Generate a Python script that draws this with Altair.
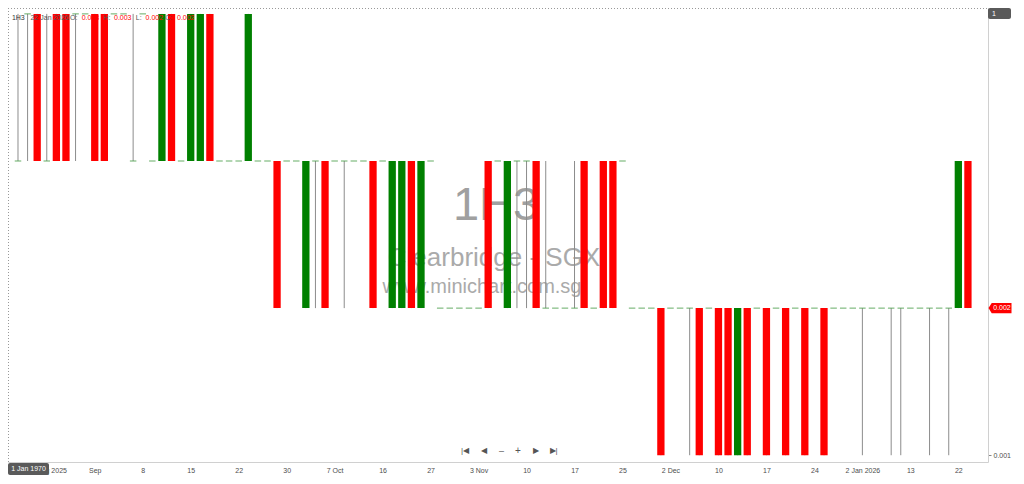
import altair as alt
import pandas as pd

# ---------------- data (bar index, OHLC) ----------------
bar_index = list(range(-8, 92))

open_price = [
    0.003, 0.004, 0.004, 0.003, 0.004, 0.004, 0.004, 0.004, 0.004, 0.004,
    0.004, 0.004, 0.003, 0.004, 0.003, 0.003, 0.004, 0.003, 0.003, 0.003,
    0.004, 0.003, 0.003, 0.003, 0.003, 0.003, 0.003, 0.003, 0.003, 0.003,
    0.002, 0.003, 0.003, 0.003, 0.003, 0.003, 0.003, 0.003, 0.003, 0.002,
    0.002, 0.003, 0.002, 0.003, 0.002, 0.002, 0.002, 0.002, 0.002, 0.003,
    0.003, 0.002, 0.003, 0.003, 0.003, 0.002, 0.002, 0.002, 0.002, 0.003,
    0.002, 0.003, 0.003, 0.003, 0.002, 0.002, 0.002, 0.002, 0.002, 0.002,
    0.002, 0.002, 0.002, 0.002, 0.002, 0.001, 0.002, 0.002, 0.002, 0.002,
    0.002, 0.002, 0.002, 0.002, 0.002, 0.002, 0.002, 0.002, 0.002, 0.002,
    0.002, 0.002, 0.002, 0.002, 0.002, 0.002, 0.002, 0.002, 0.002, 0.003,
]
high_price = [
    0.004, 0.004, 0.004, 0.004, 0.004, 0.004, 0.004, 0.004, 0.004, 0.004,
    0.004, 0.004, 0.004, 0.004, 0.003, 0.004, 0.004, 0.003, 0.004, 0.004,
    0.004, 0.003, 0.003, 0.003, 0.004, 0.003, 0.003, 0.003, 0.003, 0.003,
    0.003, 0.003, 0.003, 0.003, 0.003, 0.003, 0.003, 0.003, 0.003, 0.003,
    0.003, 0.003, 0.003, 0.003, 0.002, 0.002, 0.002, 0.002, 0.002, 0.003,
    0.003, 0.003, 0.003, 0.003, 0.003, 0.003, 0.002, 0.002, 0.003, 0.003,
    0.002, 0.003, 0.003, 0.003, 0.002, 0.002, 0.002, 0.002, 0.002, 0.002,
    0.002, 0.002, 0.002, 0.002, 0.002, 0.002, 0.002, 0.002, 0.002, 0.002,
    0.002, 0.002, 0.002, 0.002, 0.002, 0.002, 0.002, 0.002, 0.002, 0.002,
    0.002, 0.002, 0.002, 0.002, 0.002, 0.002, 0.002, 0.002, 0.003, 0.003,
]
low_price = [
    0.003, 0.003, 0.003, 0.003, 0.003, 0.003, 0.003, 0.004, 0.003, 0.003,
    0.004, 0.004, 0.003, 0.004, 0.003, 0.003, 0.003, 0.003, 0.003, 0.003,
    0.003, 0.003, 0.003, 0.003, 0.003, 0.003, 0.003, 0.002, 0.003, 0.003,
    0.002, 0.002, 0.002, 0.003, 0.002, 0.003, 0.003, 0.002, 0.003, 0.002,
    0.002, 0.002, 0.002, 0.003, 0.002, 0.002, 0.002, 0.002, 0.002, 0.002,
    0.003, 0.002, 0.002, 0.002, 0.002, 0.002, 0.002, 0.002, 0.002, 0.002,
    0.002, 0.002, 0.002, 0.003, 0.002, 0.002, 0.002, 0.001, 0.002, 0.002,
    0.001, 0.001, 0.002, 0.001, 0.001, 0.001, 0.001, 0.002, 0.001, 0.002,
    0.001, 0.002, 0.001, 0.002, 0.001, 0.002, 0.002, 0.002, 0.001, 0.002,
    0.002, 0.001, 0.001, 0.002, 0.002, 0.001, 0.002, 0.001, 0.002, 0.002,
]
close_price = [
    0.003, 0.004, 0.003, 0.003, 0.003, 0.003, 0.004, 0.004, 0.003, 0.003,
    0.004, 0.004, 0.003, 0.004, 0.003, 0.004, 0.003, 0.003, 0.004, 0.004,
    0.003, 0.003, 0.003, 0.003, 0.004, 0.003, 0.003, 0.002, 0.003, 0.003,
    0.003, 0.003, 0.002, 0.003, 0.003, 0.003, 0.003, 0.002, 0.003, 0.003,
    0.003, 0.002, 0.003, 0.003, 0.002, 0.002, 0.002, 0.002, 0.002, 0.002,
    0.003, 0.003, 0.003, 0.003, 0.002, 0.002, 0.002, 0.002, 0.002, 0.002,
    0.002, 0.002, 0.002, 0.003, 0.002, 0.002, 0.002, 0.001, 0.002, 0.002,
    0.002, 0.001, 0.002, 0.001, 0.001, 0.002, 0.001, 0.002, 0.001, 0.002,
    0.001, 0.002, 0.001, 0.002, 0.001, 0.002, 0.002, 0.002, 0.002, 0.002,
    0.002, 0.002, 0.002, 0.002, 0.002, 0.002, 0.002, 0.002, 0.003, 0.002,
]

tick_index = [-5, 0, 5, 10, 15, 20, 25, 30, 35, 40, 45, 50, 55, 60, 65, 70, 75, 80, 85, 90]
tick_labels = ["25 Aug 2025", "Sep", "8", "15", "22", "30", "7 Oct", "16", "27", "3 Nov",
               "10", "17", "25", "2 Dec", "10", "17", "24", "2 Jan 2026", "13", "22"]

df = pd.DataFrame({
    "n": bar_index,
    "open": open_price,
    "high": high_price,
    "low": low_price,
    "close": close_price,
})

# ---------------- layout ----------------
W, H = 980, 454
FONT = "Liberation Sans"
GREEN = "#008000"
RED = "#ff0000"

label_expr = (
    "[" + ",".join("'" + s + "'" for s in tick_labels) + "]"
    + "[indexof([" + ",".join(str(i) for i in tick_index) + "], datum.value)]"
)

xscale = alt.Scale(domain=[-8.52, 92.57], nice=False, zero=False)
yscale = alt.Scale(domain=[0.000954, 0.00404], nice=False, zero=False)

xaxis = alt.Axis(values=tick_index, labelExpr=label_expr, ticks=False, grid=False,
                 title=None, domainColor="#d0d0d0", labelColor="#4d4d4d",
                 labelFontSize=7, labelPadding=4, labelOverlap=False,
                 labelFlush=False, labelFont=FONT)
yaxis = alt.Axis(orient="right", values=[0.001], format=".3f", tickSize=3,
                 tickColor="#888888", labelColor="#4d4d4d", labelFontSize=7,
                 labelPadding=2, domainColor="#d0d0d0", grid=False, title=None,
                 labelFont=FONT)

base = alt.Chart(df).encode(x=alt.X("n:Q", scale=xscale, axis=xaxis))


def txt(s, x, y, size, color, align="left", baseline="middle", weight="normal"):
    return alt.Chart(pd.DataFrame({"a": [0]})).mark_text(
        text=s, align=align, baseline=baseline, fontSize=size, color=color,
        font=FONT, fontWeight=weight
    ).encode(x=alt.value(x), y=alt.value(y))


# watermark (behind)
wm = [
    txt("1H3", 488, 212, 47, "#a0a0a0", align="center", baseline="alphabetic"),
    txt("Clearbridge - SGX", 486, 258, 26, "#aaaaaa", align="center", baseline="alphabetic"),
    txt("www.minichart.com.sg", 474, 285, 20, "#aaaaaa", align="center", baseline="alphabetic"),
]

wicks = base.mark_rule(color="#8c8c8c", strokeWidth=1, clip=True).encode(
    y=alt.Y("low:Q", scale=yscale, axis=yaxis), y2="high:Q"
)

bodies = base.transform_filter("datum.open != datum.close").transform_calculate(
    dir="datum.close > datum.open ? 'up' : 'down'"
).mark_bar(size=7.3, clip=True).encode(
    y=alt.Y("open:Q", scale=yscale, axis=yaxis), y2="close:Q",
    color=alt.Color("dir:N", scale=alt.Scale(domain=["up", "down"], range=[GREEN, RED]), legend=None),
)

dojis = base.transform_filter("datum.open == datum.close").mark_tick(
    orient="horizontal", size=6.5, thickness=1, color="#4a9e4a", opacity=0.85, clip=True
).encode(y=alt.Y("close:Q", scale=yscale, axis=yaxis))

# last price tag on right
tag_path = "M -1 0 L -0.72 -0.44 L 1 -0.44 L 1 0.44 L -0.72 0.44 Z"
last = base.transform_filter(alt.datum.n == bar_index[-1])
tag = last.mark_point(shape=tag_path, size=529, filled=True, color=RED, opacity=1).encode(
    x=alt.value(992), y=alt.Y("close:Q", scale=yscale, axis=yaxis)
)
tag_text = last.mark_text(align="center", baseline="middle", fontSize=7, color="white", font=FONT).encode(
    x=alt.value(994), y=alt.Y("close:Q", scale=yscale, axis=yaxis),
    text=alt.Text("close:Q", format=".3f"),
)

one = alt.Chart(pd.DataFrame({"a": [0]}))
box_top = one.mark_rect(color="#5a5a5a", cornerRadius=2).encode(
    x=alt.value(980), x2=alt.value(1003), y=alt.value(0), y2=alt.value(11))
box_date = one.mark_rect(color="#5a5a5a", cornerRadius=2).encode(
    x=alt.value(0), x2=alt.value(41), y=alt.value(455), y2=alt.value(467))
top_dot = one.mark_rule(color="#999999", strokeDash=[1, 2], strokeWidth=1).encode(
    x=alt.value(0), x2=alt.value(W), y=alt.value(0.5))
left_dot = one.mark_rule(color="#999999", strokeDash=[1, 2], strokeWidth=1).encode(
    x=alt.value(0.5), y=alt.value(0), y2=alt.value(H))

header = [
    txt("1H3", 3.9, 10, 7, "#333333"),
    txt("22 Jan 2026", 22.6, 10, 7, "#555555"),
    txt("O:", 62, 10, 7, "#555555"),
    txt("0.003", 73.7, 10, 7, RED),
    txt("H:", 95.4, 10, 7, "#555555"),
    txt("0.003", 106, 10, 7, RED),
    txt("L:", 127.8, 10, 7, "#555555"),
    txt("0.002", 137.6, 10, 7, RED),
    txt("C:", 157.3, 10, 7, "#555555"),
    txt("0.002", 169, 10, 7, RED),
]

others = [
    txt("1", 984, 6, 7, "white"),
    txt("1 Jan 1970", 20.5, 461, 7, "white", align="center"),
]

nav = [
    txt("|◀", 457, 443, 8, "#555555", align="center"),
    txt("◀", 475.8, 443, 8, "#555555", align="center"),
    txt("–", 493.5, 443, 9, "#555555", align="center"),
    txt("+", 510, 443, 10, "#555555", align="center"),
    txt("▶", 528, 443, 8, "#555555", align="center"),
    txt("▶|", 545.6, 443, 8, "#555555", align="center"),
]

chart = alt.layer(
    *wm, wicks, bodies, dojis, *header, tag, tag_text, box_top, box_date,
    top_dot, left_dot, *others, *nav
).properties(
    width=W, height=H,
    autosize=alt.AutoSizeParams(type="none"),
    padding={"left": 0, "top": 0, "right": 28, "bottom": 14},
    background="white",
).configure_view(stroke=None)

chart.save("out.html", embed_options={"renderer": "svg", "actions": False})
